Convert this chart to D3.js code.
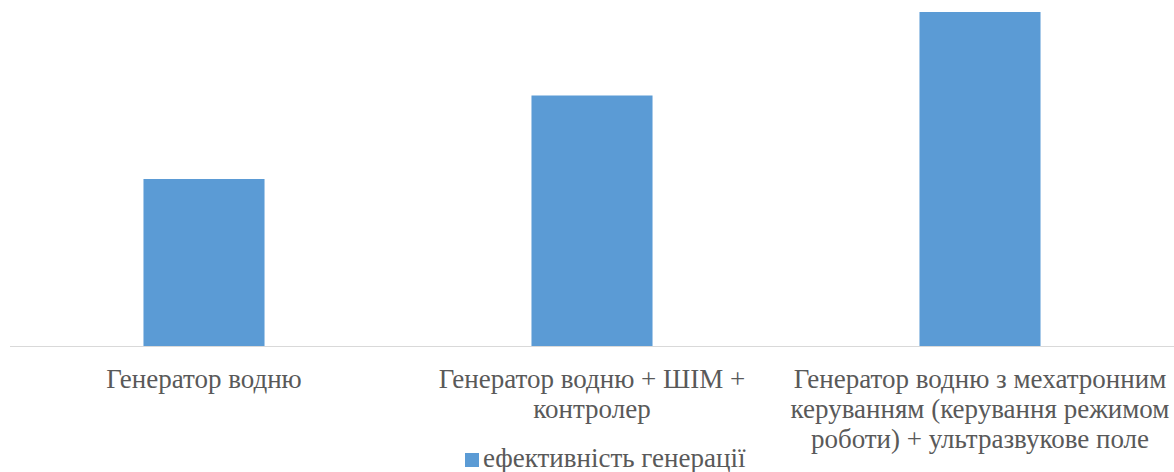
<!DOCTYPE html>
<html>
<head>
<meta charset='utf-8'>
<script src='https://cdn.jsdelivr.net/npm/d3@7'></script>
<style>
	@font-face {
		font-family: 'ChartSerif';
		src: local('Liberation Serif'), local('LiberationSerif'), local('LiberationSerif-Regular'),
			local('Times New Roman'), local('TimesNewRomanPSMT'), local('Tinos'), local('FreeSerif');
	}
	body { margin: 0; }
	.lbl { font-family: 'Liberation Serif', 'ChartSerif', FreeSerif, Tinos, 'Times New Roman'; font-size: 27px; fill: #595959; }
</style>
</head>
<body>
<script>
var categories = ['Генератор водню', 'Генератор водню + ШІМ + контролер', 'Генератор водню з мехатронним керуванням (керування режимом роботи) + ультразвукове поле'];
var category_lines = [
	['Генератор водню'],
	['Генератор водню + ШІМ +', 'контролер'],
	['Генератор водню з мехатронним', 'керуванням (керування режимом', 'роботи) + ультразвукове поле']
];
var series_name = 'ефективність генерації';
var values = [1, 1.5, 2];

var width = 1174, height = 472;
var svg = d3.select('body').append('svg').attr('width', width).attr('height', height);

var x = d3.scaleBand().domain(categories).range([10, 1174]).paddingInner(0.688).paddingOuter(0.344);
var y = d3.scaleLinear().domain([0, 2]).range([346, 12]);

svg.selectAll('rect.bar').data(values).enter().append('rect')
	.attr('class', 'bar')
	.attr('x', (d, i) => x(categories[i]))
	.attr('y', d => y(d))
	.attr('width', x.bandwidth())
	.attr('height', d => y(0) - y(d))
	.attr('fill', '#5b9bd5');

// baseline
svg.append('line')
	.attr('x1', 10).attr('x2', 1174)
	.attr('y1', y(0) + 0.5).attr('y2', y(0) + 0.5)
	.attr('stroke', '#d9d9d9').attr('stroke-width', 1);

// category labels
category_lines.forEach(function(lines, i) {
	var cx = x(categories[i]) + x.bandwidth() / 2;
	var t = svg.append('text')
		.attr('class', 'lbl')
		.attr('text-anchor', 'middle');
	lines.forEach(function(l, j) {
		t.append('tspan').attr('x', cx).attr('y', 388 + j * 30).text(l);
	});
});

// legend
svg.append('rect').attr('x', 465).attr('y', 453).attr('width', 14).attr('height', 14).attr('fill', '#5b9bd5');
svg.append('text').attr('class', 'lbl').attr('x', 483).attr('y', 467).text(series_name);
</script>
</body>
</html>
